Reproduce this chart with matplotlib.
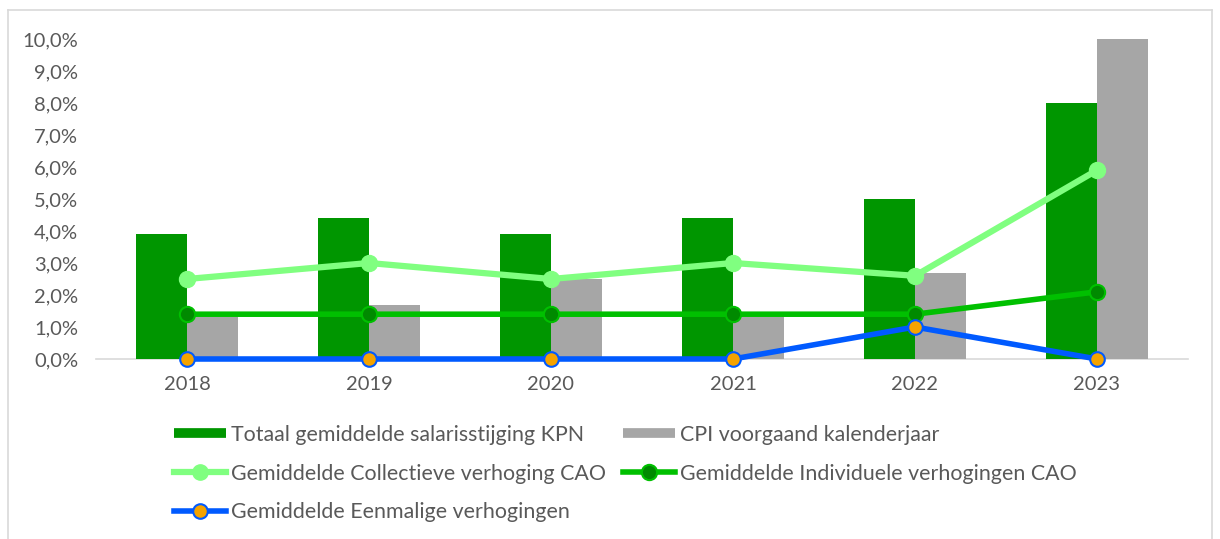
import matplotlib
matplotlib.use("Agg")
import matplotlib.pyplot as plt
from matplotlib.lines import Line2D
from matplotlib.ticker import FuncFormatter
import numpy as np

plt.rcParams['font.family'] = ['Lato', 'DejaVu Sans']

years = ['2018', '2019', '2020', '2021', '2022', '2023']
totaal_kpn = [3.9, 4.4, 3.9, 4.4, 5.0, 8.0]
cpi_vorig_jaar = [1.3, 1.7, 2.5, 1.3, 2.7, 10.0]
collectief_cao = [2.5, 3.0, 2.5, 3.0, 2.6, 5.9]
individueel_cao = [1.4, 1.4, 1.4, 1.4, 1.4, 2.1]
eenmalig = [0.0, 0.0, 0.0, 0.0, 1.0, 0.0]

labels = [
    'Totaal gemiddelde salarisstijging KPN',
    'CPI voorgaand kalenderjaar',
    'Gemiddelde Collectieve verhoging CAO',
    'Gemiddelde Individuele verhogingen CAO',
    'Gemiddelde Eenmalige verhogingen',
]

C_GREEN = '#009600'
C_GRAY = '#A6A6A6'
C_LIGHT = '#80FF80'
C_MID = '#00C000'
C_MID_FACE = '#008A00'
C_BLUE = '#005AFF'
C_ORANGE = '#F5A300'
C_TEXT = '#595959'

fig = plt.figure(figsize=(12.2, 5.39), dpi=100)
ax = fig.add_axes([96 / 1220, 1 - 359 / 539, (1188 - 96) / 1220, (359 - 39) / 539])

x = np.arange(len(years))
w = 0.28
ax.bar(x - w / 2, totaal_kpn, width=w, color=C_GREEN, zorder=2)
ax.bar(x + w / 2, cpi_vorig_jaar, width=w, color=C_GRAY, zorder=2)

ax.plot(x, collectief_cao, color=C_LIGHT, lw=4.5, marker='o', ms=11.5,
        mfc=C_LIGHT, mec=C_LIGHT, zorder=3)
ax.plot(x, individueel_cao, color=C_MID, lw=4, marker='o', ms=11,
        mfc=C_MID_FACE, mec=C_MID, mew=1.5, zorder=4)
ax.plot(x, eenmalig, color=C_BLUE, lw=4, marker='o', ms=10.5,
        mfc=C_ORANGE, mec=C_BLUE, mew=1.5, zorder=5, clip_on=False)

ax.set_xlim(-0.5, len(years) - 0.5)
ax.set_ylim(0, 10)
ax.set_yticks(np.arange(0, 11, 1))
ax.yaxis.set_major_formatter(FuncFormatter(lambda v, p: f'{v:.1f}'.replace('.', ',') + '%'))
ax.set_xticks(x)
ax.set_xticklabels(years)

for s in ['top', 'right', 'left']:
    ax.spines[s].set_visible(False)
ax.spines['bottom'].set_color('#D9D9D9')
ax.spines['bottom'].set_linewidth(1.2)
ax.spines['bottom'].set_zorder(1)
ax.tick_params(axis='both', length=0, colors=C_TEXT, labelsize=14.5)
ax.tick_params(axis='y', pad=12.7)
ax.tick_params(axis='x', pad=12)

# legend proxies, ordered so the two columns read row by row
h_tot = Line2D([], [], color=C_GREEN, lw=7, solid_capstyle='butt')
h_cpi = Line2D([], [], color=C_GRAY, lw=7, solid_capstyle='butt')
h_col = Line2D([], [], color=C_LIGHT, lw=4.5, marker='o', ms=11, mfc=C_LIGHT, mec=C_LIGHT)
h_ind = Line2D([], [], color=C_MID, lw=4, marker='o', ms=11, mfc=C_MID_FACE, mec=C_MID, mew=1.5)
h_een = Line2D([], [], color=C_BLUE, lw=4, marker='o', ms=10.5, mfc=C_ORANGE, mec=C_BLUE, mew=1.5)

leg = fig.legend([h_tot, h_col, h_een, h_cpi, h_ind],
                 [labels[0], labels[2], labels[4], labels[1], labels[3]],
                 ncol=2, loc='upper left', bbox_to_anchor=(163 / 1220, 1 - 414 / 539),
                 frameon=False, fontsize=15.4, handlelength=2.43, handletextpad=0.23,
                 columnspacing=0.8, labelspacing=0.88, borderpad=0)
for t in leg.get_texts():
    t.set_color(C_TEXT)

# outer frame of the chart area
for xs, ys in [([8 / 1220, 8 / 1220], [0, 1 - 10 / 539]),
               ([8 / 1220, 1212 / 1220], [1 - 10 / 539, 1 - 10 / 539]),
               ([1212 / 1220, 1212 / 1220], [1 - 10 / 539, 0])]:
    fig.add_artist(Line2D(xs, ys, color='#D9D9D9', lw=1.2, transform=fig.transFigure))

fig.savefig('out.png', dpi=100)
